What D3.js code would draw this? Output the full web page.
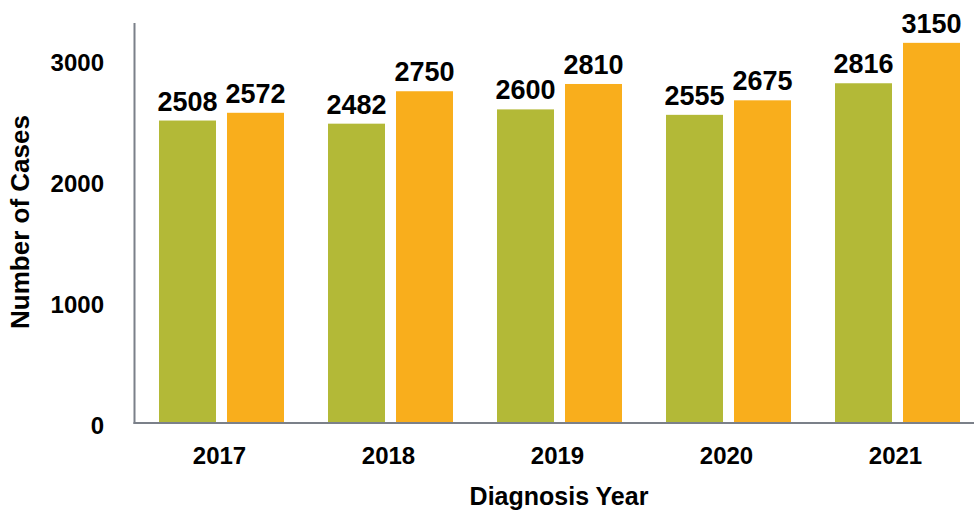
<!DOCTYPE html>
<html>
<head>
<meta charset="utf-8">
<script src="https://cdn.jsdelivr.net/npm/d3@7"></script>
<style>
  html, body { margin: 0; padding: 0; background: #ffffff; }
  svg { display: block; font-family: "Liberation Sans", Arial, Helvetica, sans-serif; font-weight: bold; }
</style>
</head>
<body>
<svg id="chart" width="974" height="511"></svg>
<script>
const years = ["2017", "2018", "2019", "2020", "2021"];
const seriesNames = ["A", "B"];
const seriesA = [2508, 2482, 2600, 2555, 2816];
const seriesB = [2572, 2750, 2810, 2675, 3150];
const yTicks = [0, 1000, 2000, 3000];
const seriesColors = ["#b3b937", "#f9ae1c"];

const svg = d3.select("#chart");
const W = 974, H = 511;

const x0 = d3.scaleBand().domain(years).range([137, 982]).paddingInner(0.2604).paddingOuter(0.1302);
const x1 = d3.scaleBand().domain(seriesNames).range([0, x0.bandwidth()]).paddingInner(11 / 68).paddingOuter(0);
const y = d3.scaleLinear().domain([0, 3314]).range([424, 23]);

const data = years.map((yr, i) => ({ year: yr, values: [
  { key: "A", value: seriesA[i], color: seriesColors[0] },
  { key: "B", value: seriesB[i], color: seriesColors[1] }
]}));

const groups = svg.append("g").selectAll("g").data(data).join("g")
  .attr("transform", d => `translate(${x0(d.year)},0)`);

groups.selectAll("rect").data(d => d.values).join("rect")
  .attr("x", d => x1(d.key))
  .attr("y", d => y(d.value))
  .attr("width", x1.bandwidth())
  .attr("height", d => y(0) - y(d.value))
  .attr("fill", d => d.color);

groups.selectAll("text.val").data(d => d.values).join("text")
  .attr("class", "val")
  .attr("x", d => x1(d.key) + x1.bandwidth() / 2)
  .attr("y", d => y(d.value) - 10)
  .attr("text-anchor", "middle")
  .attr("font-size", 27)
  .attr("fill", "#000")
  .text(d => d.value);

// axes lines
const axisColor = "#7b8089";
svg.append("line").attr("x1", 134.5).attr("x2", 134.5).attr("y1", y.range()[1]).attr("y2", y(0))
  .attr("stroke", axisColor).attr("stroke-width", 2);
svg.append("line").attr("x1", 133.5).attr("x2", W).attr("y1", y(0) - 1).attr("y2", y(0) - 1)
  .attr("stroke", axisColor).attr("stroke-width", 2);

// y tick labels
svg.append("g").selectAll("text").data(yTicks).join("text")
  .attr("x", 104)
  .attr("y", d => y(d) + 10)
  .attr("text-anchor", "end")
  .attr("font-size", 24)
  .attr("fill", "#000")
  .text(d => d);

// x tick labels
svg.append("g").selectAll("text").data(years).join("text")
  .attr("x", d => x0(d) + x0.bandwidth() / 2 - 2)
  .attr("y", 464)
  .attr("text-anchor", "middle")
  .attr("font-size", 24)
  .attr("fill", "#000")
  .text(d => d);

// axis titles
svg.append("text")
  .attr("x", 559).attr("y", 505)
  .attr("text-anchor", "middle")
  .attr("font-size", 25)
  .attr("fill", "#000")
  .text("Diagnosis Year");

svg.append("text")
  .attr("transform", "translate(29,222) rotate(-90)")
  .attr("text-anchor", "middle")
  .attr("font-size", 26)
  .attr("fill", "#000")
  .text("Number of Cases");
</script>
</body>
</html>
